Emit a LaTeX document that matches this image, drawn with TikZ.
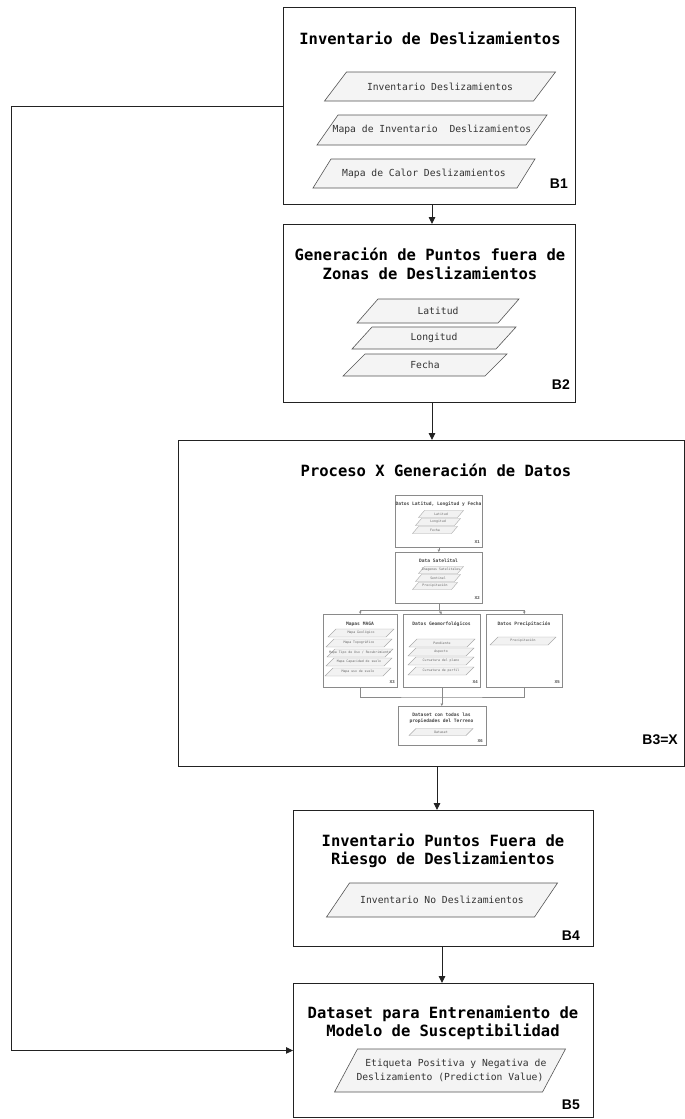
\documentclass[tikz,border=0pt]{standalone}
\usepackage{fontspec}
\setmainfont{DejaVu Sans Mono}
\newfontfamily\monof{DejaVu Sans Mono}
\newfontfamily\labf{Liberation Sans}
\usetikzlibrary{shapes.geometric,arrows.meta}
\definecolor{ln}{HTML}{222222}
\definecolor{pfill}{HTML}{F4F4F4}
\definecolor{pdraw}{HTML}{555555}
\definecolor{ptext}{HTML}{333333}
\definecolor{iln}{HTML}{8A8A8A}
\definecolor{ipfill}{HTML}{F2F2F2}
\definecolor{ipdraw}{HTML}{AAAAAA}
\definecolor{itext}{HTML}{666666}
\tikzset{
  bbox/.style={draw=ln, line width=0.9pt, anchor=north west, inner sep=0pt, fill=white},
  ttl/.style={font=\monof\bfseries\fontsize{15.5}{18.5}\selectfont, align=center, text=black, inner sep=0pt},
  pshape/.style={draw=pdraw, fill=pfill, line width=0.6pt},
  ptxt/.style={font=\monof\fontsize{9.7}{13.5}\selectfont, text=ptext, inner sep=0pt, align=center},
  blab/.style={font=\labf\bfseries\fontsize{14}{14}\selectfont, anchor=east, inner sep=0pt},
  arr/.style={draw=ln, line width=0.9pt, -{Triangle[length=7pt,width=6.5pt]}},
  ibox/.style={draw=iln, line width=0.6pt, anchor=north west, inner sep=0pt, fill=white},
  ittl/.style={font=\monof\bfseries\fontsize{4.6}{6.5}\selectfont, text=itext!70!black, align=center, inner sep=0pt},
  ipshape/.style={draw=ipdraw, fill=ipfill, line width=0.4pt},
  iptxt/.style={font=\monof\fontsize{3.2}{4}\selectfont, text=itext, inner sep=0pt},
  ilab/.style={font=\labf\bfseries\fontsize{4.2}{4.2}\selectfont, anchor=east, inner sep=0pt, text=itext!70!black},
  iarr/.style={draw=iln, line width=0.6pt, -{Triangle[length=2.5pt,width=2.5pt]}},
  iln/.style={draw=iln, line width=0.6pt},
}
% name, cx, cy, edge width, height, slant, text
\newcommand\mypara[7]{%
  \draw[pshape] ({#2-#4/2-#6/2},{#3+#5/2}) -- ++(#4,0) -- ++(#6,-#5) -- ++(-#4,0) -- cycle;
  \node[ptxt] (#1) at (#2,#3) {#7};}
\newcommand\myipara[7]{%
  \draw[ipshape] ({#2-#4/2-#6/2},{#3+#5/2}) -- ++(#4,0) -- ++(#6,-#5) -- ++(-#4,0) -- cycle;
  \node[iptxt] (#1) at (#2,#3) {#7};}
\begin{document}
\begin{tikzpicture}[x=1pt,y=-1pt]
\useasboundingbox (0,0) rectangle (685,1119);

% ---------- B1 ----------
\node[bbox, minimum width=292pt, minimum height=197pt] (B1) at (283,7) {};
\node[ttl] (t1) at (430,38) {Inventario de Deslizamientos};
\mypara{p11}{440}{86.5}{209}{29}{22}{Inventario Deslizamientos}
\mypara{p12}{432}{130}{209}{30}{21}{Mapa de Inventario\ \ Deslizamientos}
\mypara{p13}{424}{173.5}{204}{29}{18}{Mapa de Calor Deslizamientos}
\node[blab] (l1) at (568,184) {B1};

% ---------- B2 ----------
\node[bbox, minimum width=292pt, minimum height=178pt] (B2) at (283,224) {};
\node[ttl] (t2) at (430,264) {Generación de Puntos fuera de\\Zonas de Deslizamientos};
\mypara{p21}{438}{311}{141}{24}{21}{Latitud}
\mypara{p22}{434}{338}{144}{22}{20}{Longitud}
\mypara{p23}{425}{365}{142}{22}{22}{Fecha}
\node[blab] (l2) at (570,385) {B2};

% ---------- B3 ----------
\node[bbox, minimum width=506pt, minimum height=326pt] (B3) at (178,440) {};
\node[ttl] (t3) at (436,470) {Proceso X Generación de Datos};
\node[blab] (l3) at (678,740) {B3=X};

% inner diagram
\node[ibox, minimum width=87pt, minimum height=52pt] (X1) at (395,495) {};
\node[ittl] (x1t) at (438.5,504) {Datos Latitud, Longitud y Fecha};
\myipara{x11}{441}{514}{39}{7}{6}{Latitud}
\myipara{x12}{438}{522}{39}{7}{6}{Longitud}
\myipara{x13}{435}{530}{39}{7}{6}{Fecha}
\node[ilab] (x1l) at (480,542) {X1};

\node[ibox, minimum width=87pt, minimum height=51pt] (X2) at (395,552) {};
\node[ittl] (x2t) at (438.5,561) {Data Satelital};
\myipara{x21}{441}{570}{39}{7}{6}{Imagenes Satelitales}
\myipara{x22}{438}{578}{39}{7}{6}{Sentinel}
\myipara{x23}{435}{586}{39}{7}{6}{Precipitación}
\node[ilab] (x2l) at (480,598) {X2};

\node[ibox, minimum width=74pt, minimum height=73pt] (X3) at (323,614) {};
\node[ittl] (x3t) at (360,624) {Mapas MAGA};
\myipara{x31}{361}{633}{58}{8}{8}{Mapa Geológico}
\myipara{x32}{359}{643}{58}{8}{8}{Mapa Topográfico}
\myipara{x33}{360}{653}{58}{8}{8}{Mapa Tipo de Uso / Recubrimiento}
\myipara{x34}{359}{662}{58}{8}{8}{Mapa Capacidad de suelo}
\myipara{x35}{358}{672}{58}{8}{8}{Mapa uso de suelo}
\node[ilab] (x3l) at (395,682) {X3};

\node[ibox, minimum width=77pt, minimum height=73pt] (X4) at (403,614) {};
\node[ittl] (x4t) at (441.5,624) {Datos Geomorfológicos};
\myipara{x41}{442}{643}{58}{8}{8}{Pendiente}
\myipara{x42}{441}{652}{58}{8}{8}{Aspecto}
\myipara{x43}{441}{661}{58}{8}{8}{Curvatura del plano}
\myipara{x44}{441}{671}{58}{8}{8}{Curvatura de perfil}
\node[ilab] (x4l) at (478,682) {X4};

\node[ibox, minimum width=76pt, minimum height=73pt] (X5) at (486,614) {};
\node[ittl] (x5t) at (524,624) {Datos Precipitación};
\myipara{x51}{523}{641}{58}{8}{8}{Precipitación}
\node[ilab] (x5l) at (560,682) {X5};

\node[ibox, minimum width=88pt, minimum height=39pt] (X6) at (397.5,706) {};
\node[ittl] (x6t) at (441.5,718) {Dataset con todas las\\propiedades del Terreno};
\myipara{x61}{441}{732}{57}{7}{7}{Dataset}
\node[ilab] (x6l) at (483,741) {X6};

\coordinate (bar) at (441,610);
\coordinate (mrg) at (441,697);
\draw[iarr] (X1.south) -- (X2.north);
\draw[iln] (X2.south) -- (X2.south |- bar);
\draw[iarr] (X2.south |- bar) -| (X3.north);
\draw[iarr] (X2.south |- bar) -| (X5.north);
\draw[iarr] (X2.south |- bar) -- (X4.north);
\draw[iln] (X3.south) |- (mrg) -| (X5.south);
\draw[iarr] (X4.south) -- (X4.south |- X6.north);

% ---------- B4 ----------
\node[bbox, minimum width=300pt, minimum height=136pt] (B4) at (293,810) {};
\node[ttl] (t4) at (443,851) {Inventario Puntos Fuera de\\Riesgo de Deslizamientos};
\mypara{p41}{442}{900}{208}{34}{23}{Inventario No Deslizamientos}
\node[blab] (l4) at (580,936) {B4};

% ---------- B5 ----------
\node[bbox, minimum width=300pt, minimum height=134pt] (B5) at (293,983) {};
\node[ttl] (t5) at (443,1023) {Dataset para Entrenamiento de\\Modelo de Susceptibilidad};
\mypara{p51}{450}{1070.5}{208}{43}{23}{\ \ Etiqueta Positiva y Negativa de\\Deslizamiento (Prediction Value)}
\node[blab] (l5) at (580,1105) {B5};

% ---------- connectors ----------
\coordinate (fb) at (11,0);
\draw[arr] (B1.south -| 432,0) -- (B2.north -| 432,0);
\draw[arr] (B2.south -| 432,0) -- (B3.north -| 432,0);
\draw[arr] (B3.south -| 437,0) -- (B4.north -| 437,0);
\draw[arr] (B4.south -| 442,0) -- (B5.north -| 442,0);
\draw[arr] (B1.west) -- (B1.west -| fb) |- (B5.west);
\end{tikzpicture}
\end{document}
